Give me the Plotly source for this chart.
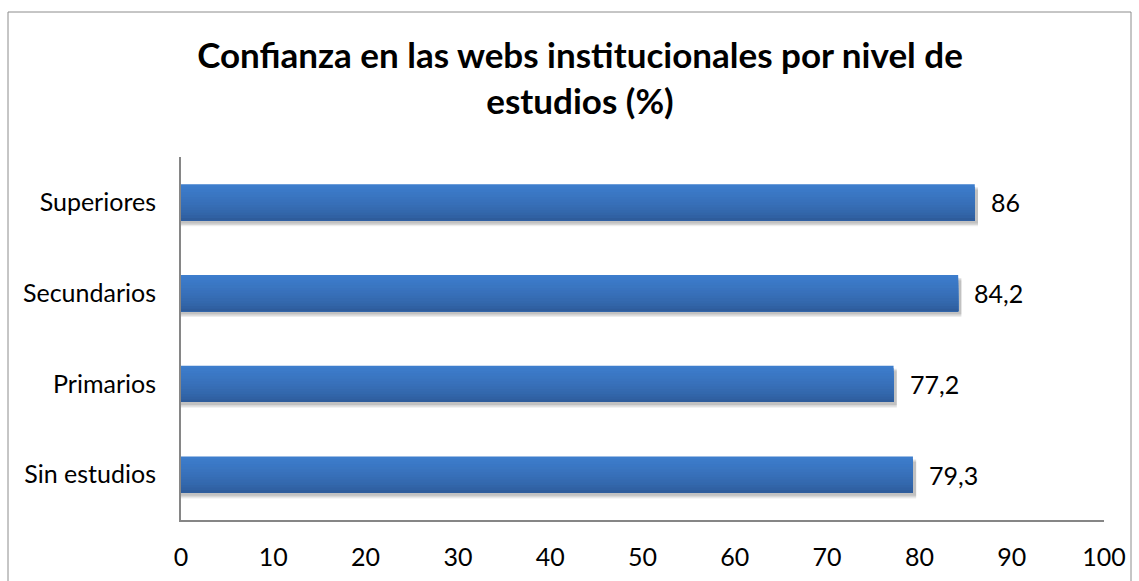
import plotly.graph_objects as go

# Data
categories = ["Sin estudios", "Primarios", "Secundarios", "Superiores"]
values = [79.3, 77.2, 84.2, 86.0]
value_labels = ["79,3", "77,2", "84,2", "86"]
x_ticks = [0, 10, 20, 30, 40, 50, 60, 70, 80, 90, 100]
title_text = "Confianza en las webs institucionales por nivel de<br>estudios (%)"

FONT = "Lato"
W, H = 1139, 581
L, R, T, B = 181, 35, 157, 61

fig = go.Figure()

# soft shadow beneath bars
BAR_W = 0.4
for off, alpha in [(-0.262, 0.07), (-0.248, 0.09), (-0.232, 0.10)]:
    fig.add_trace(go.Bar(
        y=categories, x=[v + 0.35 for v in values], orientation="h",
        width=BAR_W, offset=off,
        marker=dict(color=f"rgba(0,0,0,{alpha})", line=dict(width=0)),
        hoverinfo="skip", showlegend=False,
    ))

# gradient: nested bars anchored at bar bottom, lightest (tallest) first
dark = (46, 92, 155)
light = (61, 125, 204)
N = 14
sw = BAR_W / N
for i in range(N):
    t = (N - 1 - i) / (N - 1)
    t = t ** 0.7
    c = tuple(round(dark[k] + (light[k] - dark[k]) * t) for k in range(3))
    fig.add_trace(go.Bar(
        y=categories, x=values, orientation="h",
        width=BAR_W - i * sw, offset=-BAR_W / 2,
        marker=dict(color=f"rgb{c}", line=dict(width=0)),
        hoverinfo="skip", showlegend=False,
    ))

# value labels
for cat, v, lab in zip(categories, values, value_labels):
    fig.add_annotation(
        x=v, y=cat, text=lab, showarrow=False, xanchor="left", yanchor="middle",
        xshift=14, font=dict(family=FONT, size=25, color="#000000"),
    )

# chart frame
fig.add_shape(
    type="rect", xref="paper", yref="paper",
    x0=(8 - L) / (W - L - R), x1=(1131 - L) / (W - L - R),
    y0=(H - B - 600) / (H - T - B), y1=(H - B - 12) / (H - T - B),
    line=dict(color="#8c8c8c", width=1), fillcolor="rgba(0,0,0,0)", layer="below",
)

fig.update_layout(
    width=W, height=H,
    margin=dict(l=L, r=R, t=T, b=B, pad=0, autoexpand=False),
    paper_bgcolor="white", plot_bgcolor="white",
    barmode="overlay", bargap=0.6,
    title=dict(
        text=title_text, x=580 / W, xanchor="center",
        y=1 - 68 / H, yanchor="middle",
        font=dict(family=FONT, size=35, color="#000000", weight="bold"),
    ),
    xaxis=dict(
        range=[0, 100], tickmode="array", tickvals=x_ticks,
        ticktext=[str(v) for v in x_ticks],
        showgrid=False, zeroline=False, showline=True, linecolor="#868686", linewidth=2,
        ticks="", ticklabelstandoff=14, automargin=False,
        tickfont=dict(family=FONT, size=25, color="#000000"),
        fixedrange=True,
    ),
    yaxis=dict(
        categoryorder="array", categoryarray=categories,
        showgrid=False, zeroline=False, showline=True, linecolor="#868686", linewidth=2,
        ticks="", ticklabelstandoff=18, automargin=False,
        tickfont=dict(family=FONT, size=25, color="#000000"),
        fixedrange=True,
    ),
    font=dict(family=FONT),
)

fig.write_html(
    "out.html",
    config={"displayModeBar": False},
    post_script="document.body.style.margin='0';document.body.style.overflow='hidden';",
)
